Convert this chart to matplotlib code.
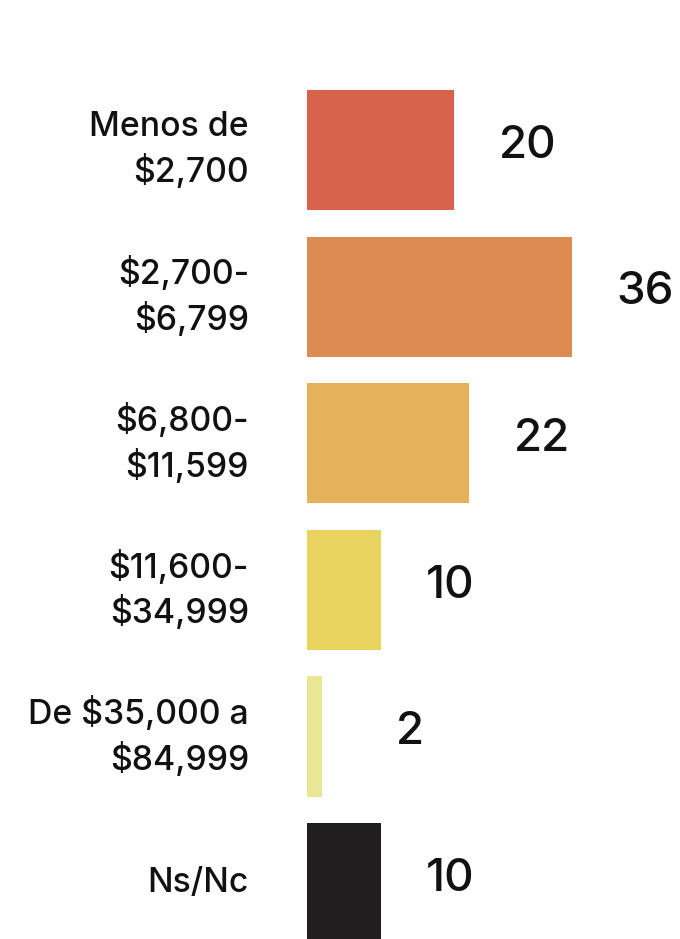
import matplotlib.pyplot as plt

plt.rcParams['font.family'] = ['Inter', 'DejaVu Sans']

categories = ['Menos de\n$2,700', '$2,700-\n$6,799', '$6,800-\n$11,599',
              '$11,600-\n$34,999', 'De $35,000 a\n$84,999', 'Ns/Nc']
values = [20, 36, 22, 10, 2, 10]
colors = ['#D6634A', '#DD8C51', '#E3B25B', '#E7D35E', '#E9E793', '#201E1F']

W, H = 680, 939
fig = plt.figure(figsize=(W / 100, H / 100), dpi=100)

# axes placed so that 1 unit ~ 7.35 px, bars start at x=307 px
x0_px = 307
px_per_unit = 7.35
xmax = 50
ax = fig.add_axes([x0_px / W, 0, xmax * px_per_unit / W, (H - 76.7) / H])
ax.set_xlim(0, xmax)
ax.set_ylim(5.38, -0.5)

ypos = list(range(len(values)))
ax.barh(ypos, values, height=0.82, color=colors)

for y, cat, v in zip(ypos, categories, values):
    ax.text(-58 / px_per_unit, y, cat, ha='right', va='center', fontsize=24.3,
            fontweight='medium', linespacing=1.38, color='#111111', clip_on=False)
    ax.text(max(v, 6) + 6.1, y - 0.03, str(v), ha='left', va='center',
            fontsize=33, fontweight='medium', color='#111111', clip_on=False)

ax.axis('off')
fig.savefig('out.png', dpi=100)
